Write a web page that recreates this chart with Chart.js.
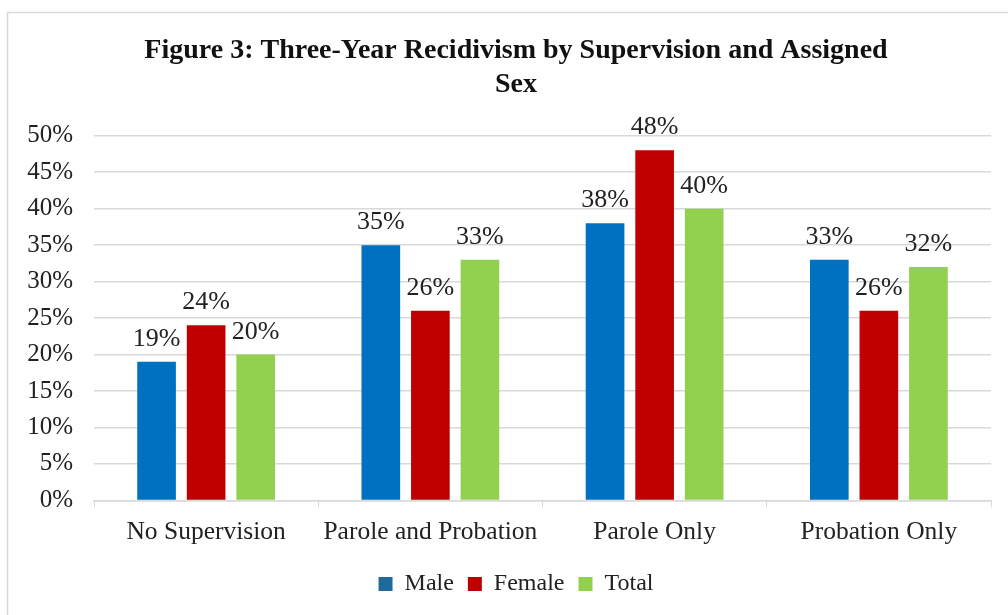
<!DOCTYPE html>
<html>
<head>
<meta charset="utf-8">
<script src="https://cdn.jsdelivr.net/npm/chart.js@4/dist/chart.umd.min.js"></script>
<style>
  html, body { margin: 0; padding: 0; background: #fff; }
  #wrap { width: 1008px; height: 615px; position: relative; }
</style>
</head>
<body>
<div id="wrap"><canvas id="chart" width="1008" height="615"></canvas></div>
<script>
// recidivism rates (%) by supervision type
const groups = ['No Supervision', 'Parole and Probation', 'Parole Only', 'Probation Only'];
const male   = [19, 35, 38, 33];
const female = [24, 26, 48, 26];
const total  = [20, 33, 40, 32];

const SERIF = "'Liberation Serif', 'Times New Roman', serif";

// light frame around the figure
const frame = {
  id: 'frame',
  beforeDraw(chart) {
    const c = chart.ctx;
    c.save();
    c.strokeStyle = '#d9d9d9';
    c.lineWidth = 1.5;
    c.strokeRect(7.5, 12.5, 1100, 700);
    c.restore();
  }
};

// value labels above each bar
const barLabels = {
  id: 'barLabels',
  afterDatasetsDraw(chart) {
    const c = chart.ctx;
    c.save();
    c.font = '26px ' + SERIF;
    c.fillStyle = '#222';
    c.textAlign = 'center';
    c.textBaseline = 'alphabetic';
    chart.data.datasets.forEach((ds, i) => {
      chart.getDatasetMeta(i).data.forEach((bar, j) => {
        c.fillText(ds.data[j] + '%', bar.x, bar.y - 16);
      });
    });
    c.restore();
  }
};

new Chart(document.getElementById('chart'), {
  type: 'bar',
  data: {
    labels: groups,
    datasets: [
      { label: 'Male',   data: male,   backgroundColor: '#0070c0' },
      { label: 'Female', data: female, backgroundColor: '#c00000' },
      { label: 'Total',  data: total,  backgroundColor: '#92d050' }
    ]
  },
  options: {
    responsive: false,
    animation: false,
    datasets: { bar: { categoryPercentage: 0.663, barPercentage: 0.78 } },
    layout: { padding: { top: 34, left: 24, right: 0, bottom: 9 } },
    plugins: {
      title: {
        display: true,
        text: ['Figure 3: Three-Year Recidivism by Supervision and Assigned', 'Sex'],
        color: '#111',
        font: { family: SERIF, size: 28, weight: 'bold', lineHeight: 1.21 },
        padding: { top: 0, bottom: 34 }
      },
      legend: {
        position: 'bottom',
        labels: {
          color: '#222',
          font: { family: SERIF, size: 24 },
          boxWidth: 14,
          boxHeight: 14,
          padding: 14,
          generateLabels(chart) {
            const legendCols = ['#1f6a9a', '#c00000', '#92d050'];
            return chart.data.datasets.map((ds, i) => ({
              text: ds.label,
              fillStyle: legendCols[i],
              strokeStyle: legendCols[i],
              lineWidth: 0,
              datasetIndex: i,
              fontColor: '#222'
            }));
          }
        }
      },
      tooltip: { enabled: false }
    },
    scales: {
      x: {
        grid: { drawOnChartArea: false, color: '#d9d9d9', tickLength: 7 },
        border: { color: '#d9d9d9', width: 1.5 },
        ticks: { color: '#222', font: { family: SERIF, size: 25.5 }, padding: 10, maxRotation: 0 }
      },
      y: {
        min: 0,
        max: 50,
        afterFit(scale) { scale.width = 70; },
        grid: { color: '#d9d9d9', lineWidth: 1.5, drawTicks: false },
        border: { display: false },
        ticks: {
          stepSize: 5,
          color: '#222',
          font: { family: SERIF, size: 25 },
          padding: 21,
          callback: v => v + '%'
        }
      },
      // empty right-hand strip between the plot and the frame edge
      yRight: {
        position: 'right',
        afterFit(scale) { scale.width = 17; },
        grid: { display: false },
        border: { display: false },
        ticks: { display: false }
      }
    }
  },
  plugins: [frame, barLabels]
});
</script>
</body>
</html>
